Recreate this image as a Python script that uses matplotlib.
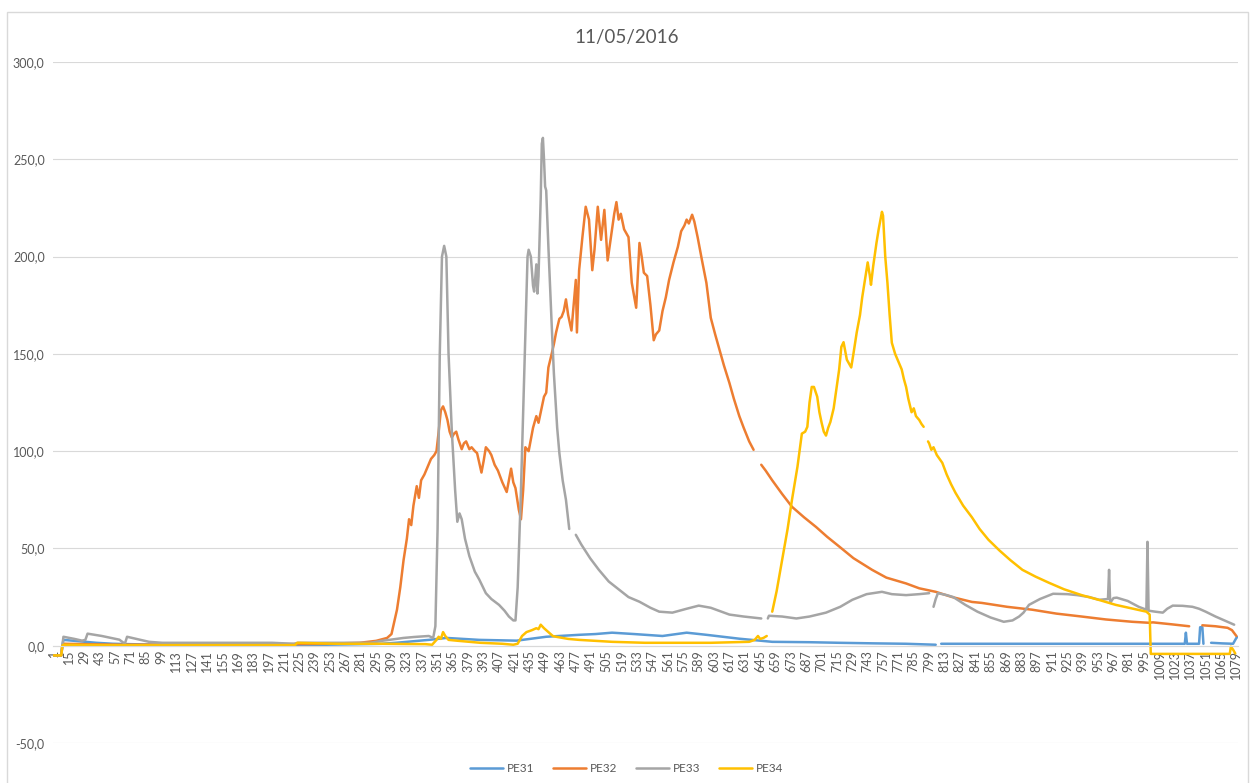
import numpy as np
import matplotlib
matplotlib.use("Agg")
import matplotlib.pyplot as plt
from matplotlib.ticker import FuncFormatter, FixedLocator, FixedFormatter
from matplotlib.patches import Rectangle

plt.rcParams['font.family'] = ['Lato', 'DejaVu Sans']

title = "11/05/2016"
series_names = ["PE31", "PE32", "PE33", "PE34"]
colors = ["#5B9BD5", "#ED7D31", "#A5A5A5", "#FFC000"]
n_categories = 1080
tick_step = 14
nan = np.nan

pe31_x = [1, 8, 9, 10, 20, 30, 40, 55, 70, 100, 150, 200, 250, 300, 313, 343, 359, 389, 423, 450,
          480, 495, 510, 530, 556, 578, 596, 626, 656, 690, 717, 750, 778, 805, 807, 810, 850, 900,
          950, 1000, 1030, 1032, 1033, 1034, 1036, 1045, 1046, 1048, 1049, 1052, 1056, 1066, 1076, 1079, 1080]
pe31_y = [-5, -5, 0, 3, 2.5, 2, 1.5, 1, 0.8, 0.5, 0.5, 0.5, 0.5, 1, 1.5, 3, 4, 3, 2.6, 4.6,
          5.6, 6, 6.7, 6, 5, 6.7, 5.6, 3.6, 2, 1.8, 1.5, 1.2, 1, 0.5, nan, 1, 1, 1,
          1, 1, 1, 1, 6.7, 1, 1, 1, 9.5, 9.5, 1, nan, 1.5, 1.2, 1, 4, 4.5]

pe32_x = [1, 8, 9, 10, 60, 150, 250, 280, 295, 305, 309, 314, 317, 320, 323, 325, 327, 329, 332, 334,
          336, 339, 342, 345, 348, 350, 352, 354, 356, 358, 360, 362, 364, 366, 368, 370, 373, 375, 377, 380,
          382, 385, 387, 389, 391, 393, 395, 398, 400, 403, 406, 410, 414, 416, 418, 420, 422, 425, 427, 429,
          431, 434, 436, 438, 441, 443, 445, 448, 450, 452, 455, 457, 459, 462, 464, 466, 468, 470, 473, 475,
          477, 478, 480, 483, 486, 489, 492, 494, 497, 500, 503, 506, 509, 512, 514, 516, 518, 521, 525, 528,
          530, 532, 535, 537, 539, 542, 545, 548, 550, 553, 556, 559, 562, 566, 570, 573, 576, 578, 580, 583,
          585, 588, 592, 596, 600, 604, 608, 612, 617, 621, 626, 630, 635, 639, 640, 646, 650, 656, 665, 674,
          685, 696, 706, 717, 730, 747, 760, 778, 790, 805, 820, 838, 847, 870, 893, 915, 938, 960, 984, 999,
          1003, 1020, 1036, 1037, 1048, 1060, 1071, 1075, 1079]
pe32_y = [-5, -5, 0, 1, 0.5, 0.5, 1, 1.5, 2.5, 4, 6, 18.5, 30, 44, 55, 65, 62, 72, 82, 76,
          85, 88, 92, 96, 98, 100, 110, 121, 123, 120, 116, 110, 107, 109, 110, 106, 101, 104, 105, 101,
          102, 100, 99, 94, 89, 95, 102, 100, 98, 93, 90, 84, 79, 85, 91, 84, 81, 70, 65, 80,
          102, 100, 106, 112, 118, 114.6, 120, 128, 130, 143, 150, 155, 161, 168, 169, 172, 178, 170, 162, 175,
          188, 161, 193, 210, 225.6, 219, 193, 203.5, 225.6, 208.6, 224, 198, 210, 222, 228, 219, 222, 214, 210, 186.5,
          180, 173.7, 207, 200, 191.7, 190, 175, 157, 160, 162, 172, 179, 188, 197, 205, 213, 216, 219, 217, 221.5,
          218, 210, 198, 186.5, 168.5, 160, 152, 144, 135, 127, 118, 112, 105, 100.7, nan, 93, 90, 85, 78, 71.4,
          66, 61, 56, 51, 45, 39, 35, 32, 29.5, 27.7, 25, 22.5, 22, 20, 18.5, 16.5, 15, 13.5, 12.3, 11.8,
          12, 11, 10, nan, 10.5, 10, 9.2, 8, 5]

pe33_x = [1, 8, 9, 10, 20, 27, 30, 32, 45, 61, 66, 68, 88, 100, 150, 200, 220, 224, 260, 290,
          300, 307, 320, 330, 343, 347, 349, 351, 353, 355, 357, 359, 361, 364, 367, 369, 371, 373, 376, 380,
          385, 389, 395, 400, 407, 412, 416, 420, 422, 424, 427, 430, 433, 434, 436, 438, 439, 441, 442, 443,
          445, 446, 447, 448, 449, 450, 452, 455, 457, 460, 462, 465, 468, 471, 472, 477, 478, 482, 490, 498,
          507, 516, 525, 535, 545, 553, 565, 578, 589, 600, 617, 630, 646, 647, 652, 653, 665, 678, 690, 705,
          718, 729, 742, 756, 765, 778, 790, 799, 800, 803, 805, 807, 815, 821, 832, 843, 855, 867, 875, 881,
          885, 890, 900, 912, 925, 934, 945, 954, 962, 963, 964, 967, 970, 980, 990, 997, 998, 999, 1005, 1012,
          1016, 1021, 1030, 1039, 1045, 1051, 1060, 1070, 1077]
pe33_y = [-5, -5, 0, 4.6, 3.5, 2.6, 3, 6.2, 5, 3.1, 1, 4.6, 2, 1.5, 1.5, 1.5, 1, 1.5, 1.5, 1.5,
          2.5, 3, 4, 4.5, 5, 4, 10, 60, 150, 200, 205.5, 200, 150, 110, 80, 63.7, 68, 65, 55, 46,
          38, 34, 27, 24, 21, 18, 15, 13, 13, 30, 80, 140, 200, 203.5, 200, 185, 182, 196, 181, 190,
          230, 258, 261, 250, 236, 234, 205, 165, 140, 112, 99, 85, 75, 60, nan, 57, 56, 52, 45, 39,
          33, 29, 25, 22.6, 19.5, 17.5, 17, 19, 20.6, 19.5, 16, 15, 14, nan, 14, 15.4, 15, 14, 15, 17,
          20, 23.6, 26.5, 27.7, 26.5, 26, 26.5, 27, nan, 20, 24, 27, 26, 25, 21, 17.5, 14.5, 12.3, 13, 15,
          17, 21, 24, 26.7, 26.5, 26, 25, 23.6, 24, 39, 22, 24.5, 24.7, 23, 20, 18.5, 53.4, 18, 17.5, 17,
          19, 20.6, 20.5, 20, 19, 17.5, 15, 12.5, 10.8]

pe34_x = [1, 8, 9, 10, 50, 100, 150, 200, 221, 223, 260, 300, 340, 346, 350, 352, 354, 356, 358, 361,
          370, 390, 410, 420, 424, 428, 432, 437, 441, 443, 445, 448, 450, 452, 456, 459, 470, 480, 510, 540,
          571, 600, 635, 640, 643, 645, 648, 651, 652, 656, 660, 665, 670, 674, 679, 683, 686, 688, 690, 692,
          694, 697, 699, 701, 703, 705, 707, 709, 712, 714, 717, 719, 721, 723, 724, 726, 728, 730, 733, 736,
          738, 741, 743, 745, 746, 748, 751, 753, 755, 756, 757, 759, 761, 763, 765, 768, 771, 774, 776, 778,
          780, 783, 785, 787, 790, 792, 794, 796, 798, 799, 801, 803, 806, 811, 815, 819, 823, 830, 838, 845,
          853, 863, 873, 884, 896, 908, 922, 938, 954, 969, 985, 997, 1000, 1001, 1030, 1060, 1073, 1074, 1076, 1078]
pe34_y = [-5, -5, 0, 0.5, 0.3, 0.3, 0.3, 0.3, 0.3, 1.5, 1, 1, 0.8, 0.5, 3, 4.6, 3.5, 7, 5, 3,
          2.5, 1.5, 1, 0.5, 1, 5, 7, 8, 9, 8.5, 10.8, 9, 8, 7, 5, 4.6, 3.5, 3, 2, 1.5,
          1.5, 1.5, 2, 3, 5, 3.5, 4, 5, nan, 17.5, 28, 44, 60, 75, 92, 109, 110, 112.5, 125, 133,
          133, 128, 120, 114.6, 110, 108, 112, 115, 122, 130, 142, 153.6, 156, 150, 147, 145, 143, 150, 161, 170,
          179, 190, 197, 190, 185.5, 195, 207, 214, 220, 223, 221, 200, 186.5, 170, 155.7, 150, 146, 142, 137, 133,
          127, 120, 122, 118, 116, 114, 112.5, nan, 105, 104, 100.7, 102, 98, 94, 88, 83, 78.6, 72, 66, 60,
          54.5, 49, 44, 39, 35.5, 32.4, 29, 26, 23.5, 21, 19, 17.5, 16, -4.2, -4.2, -4.2, -4.2, -0.5, -2, -4]

series_x = [pe31_x, pe32_x, pe33_x, pe34_x]
series_y = [pe31_y, pe32_y, pe33_y, pe34_y]

W, H = 1253, 783
fig = plt.figure(figsize=(W / 100, H / 100), dpi=100)
fig.patch.set_facecolor("white")

# chart frame
fig.patches.append(Rectangle((7 / W, -0.01), 1241 / W, 1 - 12 / H + 0.01, transform=fig.transFigure,
                             fill=False, edgecolor="#d9d9d9", linewidth=1.0))

ax_left, ax_right = 53, 1238
ax_top, ax_bottom = 62, 743
ax = fig.add_axes([ax_left / W, 1 - ax_bottom / H, (ax_right - ax_left) / W, (ax_bottom - ax_top) / H])

for s in ["top", "right", "left"]:
    ax.spines[s].set_visible(False)
ax.spines["bottom"].set_position(("data", 0))
ax.spines["bottom"].set_color("#d9d9d9")

for name, xs, ys, c in zip(series_names, series_x, series_y, colors):
    ax.plot(xs, ys, color=c, linewidth=1.8, label=name, solid_joinstyle="round", solid_capstyle="round")

ax.set_xlim(0.5, n_categories + 0.5)
ax.set_ylim(-50, 300)
ax.set_yticks(np.arange(-50, 301, 50))
ax.yaxis.set_major_formatter(FuncFormatter(lambda v, p: f"{v:.1f}".replace(".", ",")))
ax.grid(axis="y", color="#d9d9d9", linewidth=0.8)
ax.set_axisbelow(True)

tick_pos = list(range(1, n_categories + 1, tick_step))
ax.xaxis.set_major_locator(FixedLocator(tick_pos))
ax.xaxis.set_major_formatter(FixedFormatter([str(t) for t in tick_pos]))
ax.tick_params(axis="x", length=0, pad=3, labelsize=9, labelcolor="#595959", labelrotation=90)
ax.tick_params(axis="y", length=0, pad=6, labelsize=9, labelcolor="#595959")

fig.text(0.5, 1 - 38 / H, title, ha="center", va="center", fontsize=13.5, color="#595959")

fig.legend(loc="center", bbox_to_anchor=(0.5, 1 - 769 / H), ncol=4, frameon=False,
           fontsize=8.5, handlelength=2.8, columnspacing=1.6, handletextpad=0.3,
           labelcolor="#595959")

fig.savefig("out.png", dpi=100)
